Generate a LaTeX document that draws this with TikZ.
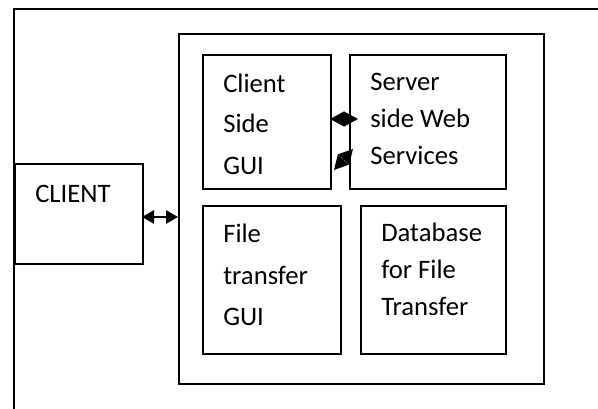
\documentclass[tikz,border=0pt]{standalone}
\usepackage{fontspec}
\setmainfont{Carlito}
\usetikzlibrary{arrows.meta}

\tikzset{
  box/.style={draw, line width=1.5pt, inner sep=0pt, anchor=north west},
  lbl/.style={anchor=base west, inner sep=0pt, font=\fontsize{20pt}{30pt}\selectfont},
  link/.style={{Triangle[length=9pt,width=10pt]}-{Triangle[length=9pt,width=10pt]}, line width=1.3pt},
  slink/.style={{Triangle[length=10.5pt,width=11pt]}-{Triangle[length=10.5pt,width=11pt]}, line width=1.3pt}
}

\begin{document}
\begin{tikzpicture}[x=0.75pt, y=-0.75pt]
  \useasboundingbox (0,0) rectangle (598,409);

  % open frame round everything
  \draw[line width=1.6pt] (14,409) -- (14,9) -- (598,9);

  \node[box, minimum width=128*0.75pt, minimum height=100*0.75pt] (client) at (14,163) {};
  \node[box, minimum width=365*0.75pt, minimum height=350*0.75pt] (system) at (178,33) {};

  \node[box, minimum width=128*0.75pt, minimum height=134*0.75pt] (csgui) at (202,54) {};
  \node[box, minimum width=156*0.75pt, minimum height=134*0.75pt] (server) at (349,54) {};
  \node[box, minimum width=138*0.75pt, minimum height=148*0.75pt] (ftgui) at (202,205) {};
  \node[box, minimum width=145*0.75pt, minimum height=148*0.75pt] (db) at (360,205) {};

  \node[lbl] (t1) at (35,203) {CLIENT};
  \node[lbl] (t2) at (223,93) {Client};
  \node[lbl] (t3) at (223,133) {Side};
  \node[lbl] (t4) at (223,175) {GUI};
  \node[lbl] (t5) at (370,91) {Server};
  \node[lbl] (t6) at (370,128) {side Web};
  \node[lbl] (t7) at (370,165) {Services};
  \node[lbl] (t8) at (223,243) {File};
  \node[lbl] (t9) at (223,284) {transfer};
  \node[lbl] (t10) at (223,325) {GUI};
  \node[lbl] (t11) at (381,241) {Database};
  \node[lbl] (t12) at (381,278) {for File};
  \node[lbl] (t13) at (381,315) {Transfer};

  \coordinate (c1) at (142,217);
  \coordinate (s1) at (178,217);
  \coordinate (g1) at (330,119);
  \coordinate (w1) at (358,119);
  \coordinate (g2) at (334,170);
  \coordinate (w2) at (353,149);

  \draw[link] (c1) -- (s1);
  \draw[slink] (g1) -- (w1);
  \draw[slink] (g2) -- (w2);
\end{tikzpicture}
\end{document}
